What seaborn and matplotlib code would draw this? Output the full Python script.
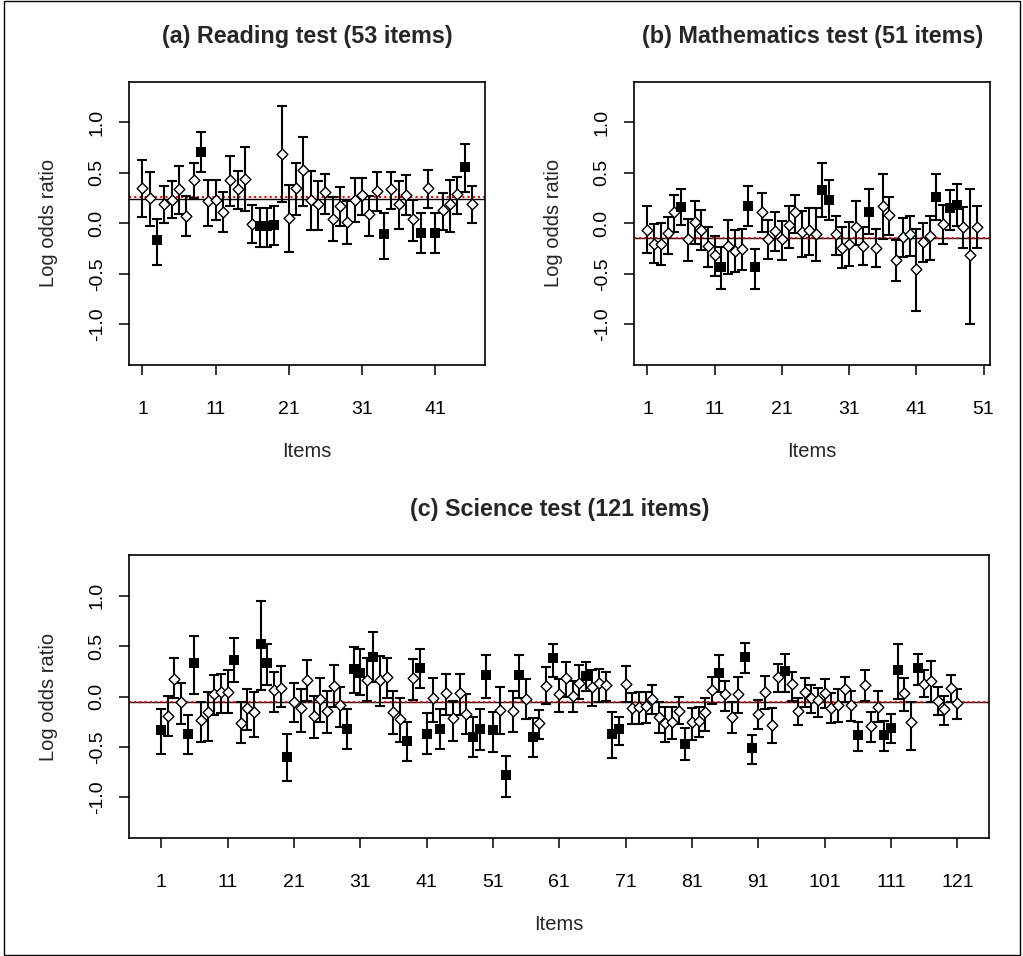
import numpy as np
import pandas as pd
import matplotlib
matplotlib.use("Agg")
import matplotlib.pyplot as plt
import seaborn as sns
from matplotlib.patches import Rectangle

# ---- data ------------------------------------------------------------------
# (a) Reading test
read_est = [0.35, 0.25, -0.165, 0.19, 0.23, 0.34, 0.07, 0.43, 0.71, 0.22,
            0.23, 0.11, 0.43, 0.34, 0.44, -0.01, -0.03, -0.03, -0.02, 0.69,
            0.05, 0.35, 0.53, 0.23, 0.19, 0.31, 0.04, 0.17, 0.01, 0.23,
            0.28, 0.09, 0.32, -0.11, 0.34, 0.19, 0.28, 0.04, -0.095, 0.35,
            -0.095, 0.13, 0.19, 0.29, 0.56, 0.19]
read_lo = [0.066, -0.03, -0.41, 0.0, 0.05, 0.09, -0.13, 0.25, 0.51, -0.03,
           0.03, -0.09, 0.17, 0.14, 0.12, -0.19, -0.23, -0.23, -0.21, 0.21,
           -0.28, 0.08, 0.17, -0.07, -0.07, 0.09, -0.17, -0.03, -0.2, 0.01,
           0.08, -0.13, 0.12, -0.35, 0.14, -0.06, 0.08, -0.17, -0.29, 0.15,
           -0.29, -0.07, -0.09, 0.09, 0.31, 0.0]
read_hi = [0.625, 0.51, 0.04, 0.37, 0.42, 0.57, 0.27, 0.6, 0.91, 0.43,
           0.43, 0.31, 0.67, 0.52, 0.76, 0.18, 0.15, 0.15, 0.17, 1.16,
           0.38, 0.6, 0.86, 0.52, 0.42, 0.49, 0.26, 0.36, 0.22, 0.45,
           0.45, 0.27, 0.51, 0.1, 0.51, 0.42, 0.48, 0.23, 0.1, 0.53,
           0.1, 0.3, 0.43, 0.46, 0.79, 0.37]
read_flag = [3, 9, 17, 18, 19, 34, 39, 41, 45]
read_mean, read_ref = 0.245, 0.265

# (b) Mathematics test
math_est = [-0.065, -0.2, -0.2, -0.1, 0.11, 0.16, -0.155, 0.01, -0.065, -0.22,
            -0.31, -0.43, -0.22, -0.27, -0.255, 0.17, -0.43, 0.115, -0.155, -0.08,
            -0.155, -0.013, 0.115, -0.09, -0.065, -0.105, 0.33, 0.235, -0.105, -0.245,
            -0.2, -0.033, -0.22, 0.115, -0.245, 0.175, 0.085, -0.36, -0.14, -0.105,
            -0.45, -0.18, -0.13, 0.26, -0.007, 0.15, 0.185, -0.033, -0.31, -0.033]
math_lo = [-0.29, -0.39, -0.41, -0.3, -0.09, -0.02, -0.37, -0.2, -0.26, -0.43,
           -0.52, -0.65, -0.5, -0.48, -0.46, -0.03, -0.65, -0.09, -0.35, -0.27,
           -0.36, -0.24, -0.095, -0.33, -0.31, -0.37, 0.066, 0.036, -0.31, -0.44,
           -0.42, -0.21, -0.41, -0.11, -0.43, -0.16, -0.115, -0.575, -0.335, -0.325,
           -0.87, -0.385, -0.36, 0.03, -0.2, -0.07, -0.03, -0.24, -1.0, -0.24]
math_hi = [0.17, -0.01, 0.0, 0.066, 0.28, 0.345, 0.04, 0.22, 0.135, -0.04,
           -0.13, -0.23, 0.03, -0.07, -0.06, 0.37, -0.25, 0.3, 0.03, 0.11,
           0.02, 0.17, 0.28, 0.125, 0.15, 0.15, 0.6, 0.43, 0.075, -0.04,
           0.016, 0.22, -0.04, 0.345, -0.056, 0.49, 0.26, -0.165, 0.05, 0.075,
           -0.056, 0.0, 0.075, 0.49, 0.18, 0.33, 0.39, 0.16, 0.345, 0.17]
math_flag = [6, 12, 16, 17, 27, 28, 34, 44, 46, 47]
math_mean, math_ref = -0.15, -0.145

# (c) Science test
sci_est = [-0.333, -0.19, 0.18, -0.056, -0.37, 0.33, -0.23, -0.155, 0.026, 0.05,
           0.05, 0.36, -0.26, -0.115, -0.155, 0.52, 0.33, 0.066, 0.09, -0.6,
           -0.056, -0.115, 0.165, -0.19, -0.023, -0.142, 0.11, -0.082, -0.32, 0.274,
           0.24, 0.165, 0.396, 0.165, 0.2, -0.155, -0.22, -0.435, 0.19, 0.287,
           -0.37, -0.01, -0.32, 0.033, -0.215, 0.033, -0.175, -0.396, -0.32, 0.22,
           -0.33, -0.13, -0.78, -0.142, 0.215, -0.026, -0.396, -0.264, 0.11, 0.38,
           0.023, 0.19, 0.01, 0.14, 0.21, 0.1, 0.14, 0.115, -0.37, -0.32,
           0.125, -0.115, -0.1, -0.09, -0.023, -0.2, -0.257, -0.25, -0.14, -0.47,
           -0.25, -0.24, -0.155, 0.066, 0.24, 0.023, -0.205, 0.023, 0.396, -0.51,
           -0.175, 0.05, -0.28, 0.2, 0.257, 0.125, -0.14, 0.05, -0.01, -0.033,
           0.033, -0.115, -0.083, 0.076, -0.083, -0.38, 0.12, -0.29, -0.1, -0.38,
           -0.31, 0.264, 0.033, -0.25, 0.287, 0.125, 0.155, -0.043, -0.125, 0.083,
           -0.066]
sci_lo = [-0.57, -0.39, -0.017, -0.27, -0.57, 0.026, -0.445, -0.435, -0.18, -0.16,
          -0.16, 0.15, -0.46, -0.33, -0.40, 0.07, 0.12, -0.15, -0.1, -0.835,
          -0.25, -0.35, -0.04, -0.405, -0.25, -0.356, -0.1, -0.3, -0.52, 0.033,
          0.017, -0.04, 0.15, -0.09, -0.016, -0.37, -0.445, -0.64, -0.033, 0.09,
          -0.57, -0.25, -0.52, -0.18, -0.435, -0.18, -0.37, -0.6, -0.53, -0.01,
          -0.55, -0.37, -1.0, -0.35, -0.01, -0.225, -0.6, -0.42, -0.076, 0.2,
          -0.15, 0.0, -0.15, -0.023, 0.056, -0.09, -0.05, -0.04, -0.61, -0.48,
          -0.05, -0.27, -0.27, -0.257, -0.175, -0.36, -0.445, -0.42, -0.27, -0.63,
          -0.43, -0.396, -0.34, -0.076, 0.05, -0.14, -0.36, -0.165, 0.24, -0.67,
          -0.32, -0.125, -0.46, 0.043, 0.05, -0.04, -0.28, -0.1, -0.165, -0.2,
          -0.115, -0.26, -0.25, -0.056, -0.24, -0.535, -0.04, -0.445, -0.25, -0.535,
          -0.46, -0.023, -0.14, -0.53, 0.12, 0.0, -0.056, -0.18, -0.28, -0.056,
          -0.22]
sci_hi = [-0.125, 0.01, 0.385, 0.14, -0.18, 0.6, -0.05, 0.05, 0.22, 0.23,
          0.26, 0.58, -0.056, 0.08, 0.05, 0.95, 0.52, 0.25, 0.3, -0.37,
          0.14, 0.08, 0.36, 0.01, 0.19, 0.056, 0.31, 0.1, -0.12, 0.49,
          0.47, 0.38, 0.64, 0.4, 0.38, 0.056, -0.016, -0.25, 0.37, 0.47,
          -0.165, 0.19, -0.125, 0.23, -0.04, 0.23, 0.026, -0.2, -0.125, 0.41,
          -0.148, 0.1, -0.585, 0.056, 0.41, 0.175, -0.208, -0.13, 0.29, 0.52,
          0.18, 0.34, 0.155, 0.31, 0.34, 0.26, 0.27, 0.25, -0.15, -0.2,
          0.3, 0.033, 0.043, 0.043, 0.12, -0.05, -0.1, -0.1, 0.0, -0.31,
          -0.115, -0.1, -0.01, 0.2, 0.41, 0.155, -0.056, 0.2, 0.53, -0.38,
          -0.033, 0.21, -0.11, 0.32, 0.42, 0.25, -0.01, 0.19, 0.115, 0.083,
          0.175, 0.033, 0.073, 0.2, 0.056, -0.254, 0.26, -0.15, 0.056, -0.24,
          -0.175, 0.52, 0.19, -0.05, 0.42, 0.26, 0.35, 0.1, 0.01, 0.22,
          0.073]
sci_flag = [1, 5, 6, 12, 16, 17, 20, 29, 30, 31, 33, 38, 40, 41, 43, 48, 49, 50,
            51, 53, 55, 57, 60, 65, 69, 70, 80, 85, 89, 90, 95, 106, 110, 111, 112, 115]
sci_mean, sci_ref = -0.05, -0.05

titles = ["(a) Reading test (53 items)", "(b) Mathematics test (51 items)",
          "(c) Science test (121 items)"]
yticks = [-1.0, -0.5, 0.0, 0.5, 1.0]
ytick_labels = ["-1.0", "-0.5", "0.0", "0.5", "1.0"]

# ---- style -----------------------------------------------------------------
sns.set_style("ticks")
plt.rcParams['font.family'] = ['Liberation Sans', 'DejaVu Sans']

W, H = 1023, 956
fig = plt.figure(figsize=(W / 100, H / 100), dpi=100)
fig.patches.append(Rectangle((0.004, 0.001), 0.993, 0.998, transform=fig.transFigure,
                             fill=False, edgecolor='black', linewidth=1.0))


def px_axes(left, top, right, bottom):
    return fig.add_axes([left / W, 1 - bottom / H, (right - left) / W, (bottom - top) / H])


def draw_panel(ax, est, lo, hi, flag, mean_val, ref_val, title, xticks):
    df = pd.DataFrame({'item': np.arange(1, len(est) + 1), 'est': est,
                       'lo': lo, 'hi': hi})
    df['dif'] = df['item'].isin(flag)

    ax.errorbar(df['item'], df['est'], yerr=[df['est'] - df['lo'], df['hi'] - df['est']],
                fmt='none', ecolor='black', elinewidth=1.5, capsize=3.4,
                capthick=1.5, zorder=2)
    ax.axhline(mean_val, color='black', linewidth=1.0, zorder=1)
    ax.axhline(ref_val, color='red', linewidth=1.5, linestyle=(0, (1, 1.5)), zorder=1.5)

    # open diamonds: items without DIF, filled squares: flagged items
    sns.scatterplot(data=df[~df['dif']], x='item', y='est', marker='D', s=30,
                    color='white', edgecolor='black', linewidth=1.0, ax=ax, zorder=3)
    sns.scatterplot(data=df[df['dif']], x='item', y='est', marker='s', s=46,
                    color='black', edgecolor='black', linewidth=0, ax=ax, zorder=3)

    n = len(est)
    ext = 0.04 * (n - 1)
    ax.set_xlim(1 - ext, n + ext)
    ax.set_ylim(-1.404, 1.404)
    ax.set_xticks(xticks)
    ax.set_yticks(yticks)
    ax.set_yticklabels(ytick_labels, rotation=90, va='center')
    ax.tick_params(axis='both', direction='out', length=7, width=1.1,
                   labelsize=14, colors='black')
    ax.tick_params(axis='x', pad=19)
    ax.tick_params(axis='y', pad=10)
    for sp in ax.spines.values():
        sp.set_visible(True)
        sp.set_linewidth(1.2)
        sp.set_color('black')
    ax.set_xlabel('Items', fontsize=14.5, labelpad=17)
    ax.set_ylabel('Log odds ratio', fontsize=14.5, labelpad=22)
    ax.set_title(title, fontsize=16.8, fontweight='bold', pad=28)


ax_a = px_axes(129.3, 81.7, 485, 365)
draw_panel(ax_a, read_est, read_lo, read_hi, read_flag, read_mean, read_ref,
           titles[0], [1, 11, 21, 31, 41])

ax_b = px_axes(634.3, 81.7, 990, 365)
draw_panel(ax_b, math_est, math_lo, math_hi, math_flag, math_mean, math_ref,
           titles[1], [1, 11, 21, 31, 41, 51])

ax_c = px_axes(129.3, 555.2, 989.3, 838.2)
draw_panel(ax_c, sci_est, sci_lo, sci_hi, sci_flag, sci_mean, sci_ref,
           titles[2], list(range(1, 122, 10)))

fig.savefig('out.png', dpi=100)
